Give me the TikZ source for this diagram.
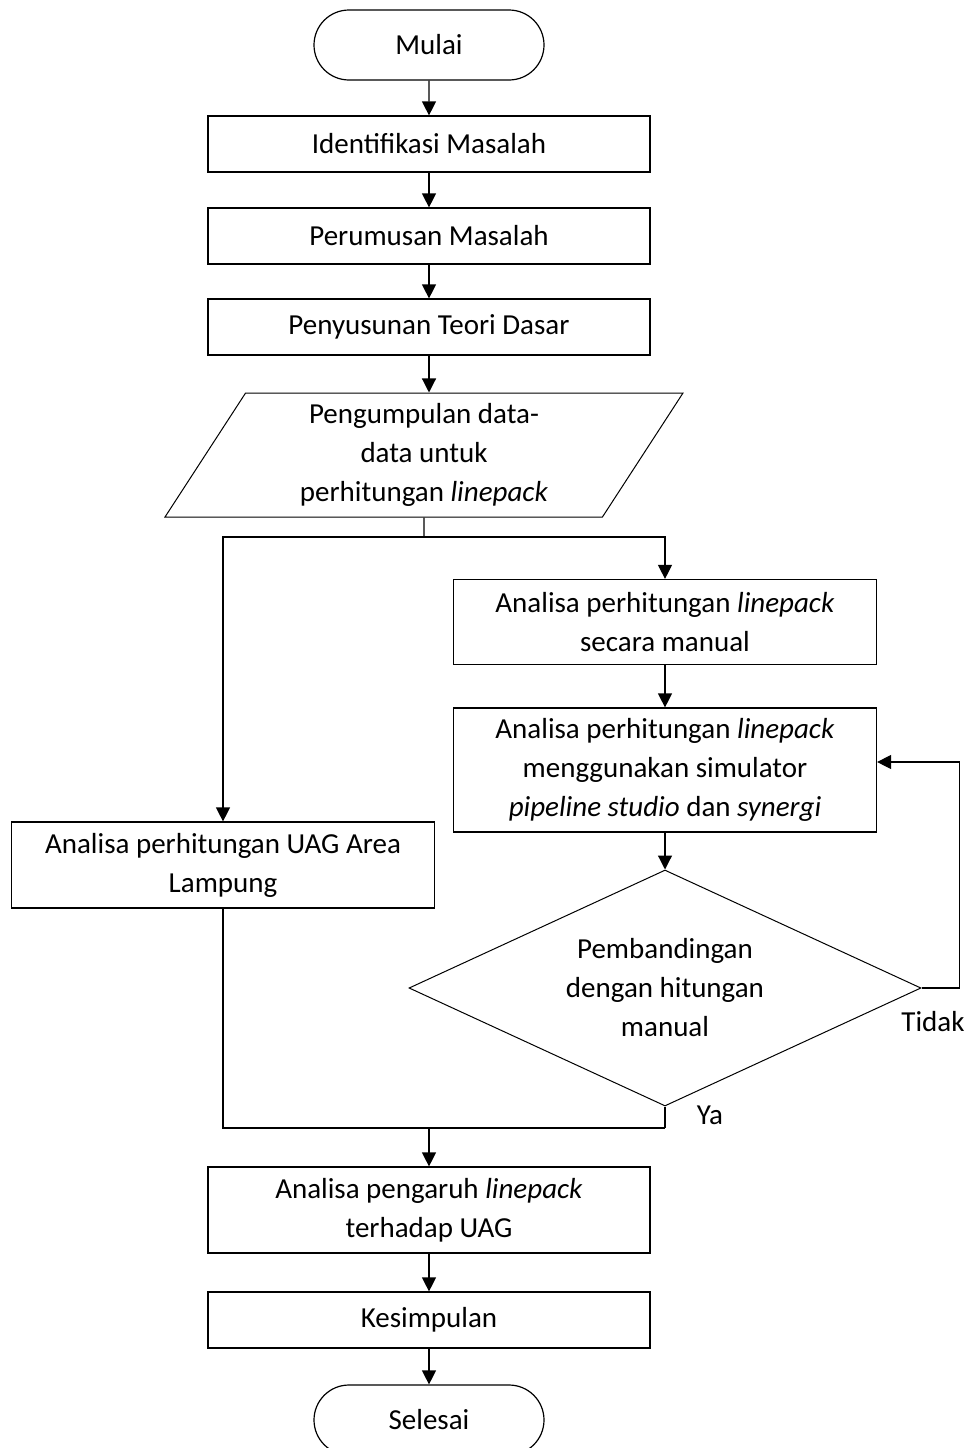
\documentclass[tikz,border=0pt]{standalone}
\usepackage{fontspec}
\setmainfont{Carlito}
\usetikzlibrary{shapes.geometric,shapes.misc,arrows.meta}

\tikzset{
  teks/.style={font=\fontsize{29}{39}\selectfont},
  terminal/.style={teks,draw,rounded rectangle,line width=1.2pt,minimum width=230pt,minimum height=70pt,inner sep=0pt},
  proses/.style={teks,draw,rectangle,line width=1.2pt,minimum width=442pt,minimum height=56pt,inner sep=0pt,align=center},
  masukan/.style={teks,draw,trapezium,trapezium left angle=52,trapezium right angle=128,trapezium stretches body=true,line width=1pt,minimum width=518pt,minimum height=124pt,inner sep=0pt,align=center},
  keputusan/.style={teks,draw,diamond,aspect=2.17,line width=1pt,minimum width=512pt,minimum height=236pt,inner sep=0pt,align=center},
  panah/.style={line width=1.2pt,-{Triangle[width=14pt,length=14pt]}},
  garis/.style={line width=1.2pt},
}

\begin{document}
\begin{tikzpicture}[x=1pt,y=-1pt]
\useasboundingbox (0,0) rectangle (970,1448);

% simbol
\node[terminal] (mulai) at (429,45) {Mulai};
\node[proses] (identifikasi) at (429,144) {Identifikasi Masalah};
\node[proses] (perumusan) at (429,236) {Perumusan Masalah};
\node[proses] (teori) at (429,327) {Penyusunan Teori Dasar};
\node[masukan] (data) at (424,455) {Pengumpulan data-\\data untuk\\perhitungan \textit{linepack}};
\node[proses,minimum width=423pt,minimum height=85pt] (manual) at (665,622) {Analisa perhitungan \textit{linepack}\\secara manual};
\node[proses,minimum width=423pt,minimum height=124pt] (simulator) at (665,770) {Analisa perhitungan \textit{linepack}\\menggunakan simulator\\\textit{pipeline studio} dan \textit{synergi}};
\node[keputusan] (banding) at (665,988) {Pembandingan\\dengan hitungan\\manual};
\node[proses,minimum width=423pt,minimum height=86pt] (uag) at (223,865) {Analisa perhitungan UAG Area\\Lampung};
\node[proses,minimum height=86pt] (pengaruh) at (429,1210) {Analisa pengaruh \textit{linepack}\\terhadap UAG};
\node[proses] (kesimpulan) at (429,1320) {Kesimpulan};
\node[terminal] (selesai) at (429,1420) {Selesai};

% titik cabang
\coordinate (cabang) at (424,537);
\coordinate (gabung) at (665,1128);
\coordinate (masuk) at (429,1128);

% alur
\draw[panah] (mulai) -- (identifikasi);
\draw[panah] (identifikasi) -- (perumusan);
\draw[panah] (perumusan) -- (teori);
\draw[panah] (teori) -- (teori.south |- data.north);
\draw[garis] (data.south) -- (cabang);
\draw[panah] (cabang) -| (uag.north);
\draw[panah] (cabang) -| (manual.north);
\draw[panah] (manual) -- (simulator);
\draw[panah] (simulator) -- (banding);
\draw[panah] (banding.east) -- ++(38,0) |- ([yshift=8pt]simulator.east);
\draw[garis] (banding.south) -- (gabung);
\draw[garis] (uag.south) |- (gabung);
\draw[panah] (masuk) -- (pengaruh);
\draw[panah] (pengaruh) -- (kesimpulan);
\draw[panah] (kesimpulan) -- (selesai);

% label
\node[teks] (tidak) at (933,1022) {Tidak};
\node[teks] (ya) at (710,1115) {Ya};

\end{tikzpicture}
\end{document}
